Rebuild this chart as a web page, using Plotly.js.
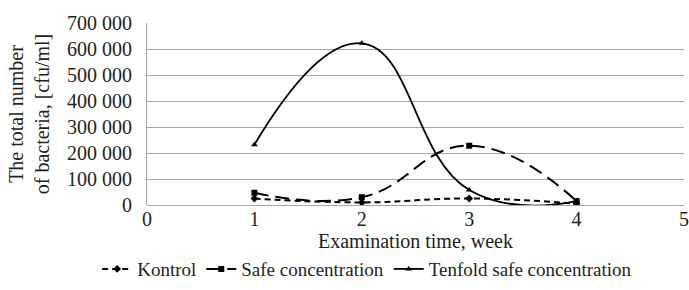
<!DOCTYPE html>
<html><head><meta charset="utf-8">
<script src="https://cdn.plot.ly/plotly-3.0.1.min.js"></script>
<style>body{margin:0;padding:0;background:#fff}#chart{width:689px;height:290px}</style>
</head><body><div id="chart"></div>
<script>
const weeks = [1, 2, 3, 4];
const kontrol = [25000, 10000, 25000, 5000];
const safeConc = [47000, 30000, 228000, 15000];
const tenfold = [232000, 622000, 58000, 15000];
const yTicks = [0, 100000, 200000, 300000, 400000, 500000, 600000, 700000];
const yTickText = ['0', '100 000', '200 000', '300 000', '400 000', '500 000', '600 000', '700 000'];
const xTicks = [0, 1, 2, 3, 4, 5];

const fam = 'Liberation Serif, Times New Roman, serif';
const col = '#231f20';
const f = {family: fam, size: 20, color: col};
const fl = {family: fam, size: 19, color: col};
const traces = [
  {x: weeks, y: kontrol, name: 'Kontrol', mode: 'lines+markers',
   line: {color: '#000', width: 2, dash: '6px,4px', shape: 'spline', smoothing: 1.3},
   marker: {symbol: 'diamond', size: 6, color: '#000'}},
  {x: weeks, y: safeConc, name: 'Safe concentration', mode: 'lines+markers',
   line: {color: '#000', width: 2, dash: '14px,7px', shape: 'spline', smoothing: 1.3},
   marker: {symbol: 'square', size: 6, color: '#000'}},
  {x: weeks, y: tenfold, name: 'Tenfold safe concentration', mode: 'lines+markers',
   line: {color: '#000', width: 1.8, shape: 'spline', smoothing: 1.3},
   marker: {symbol: 'triangle-up', size: 6, color: '#000'}}
];
const layout = {
  width: 689, height: 290,
  margin: {l: 147, r: 5, t: 23, b: 85, autoexpand: false},
  paper_bgcolor: '#fff', plot_bgcolor: '#fff',
  font: f,
  showlegend: true,
  legend: {orientation: 'h', x: 0.41, xanchor: 'center', y: -0.352, yanchor: 'middle',
           font: fl, tracegroupgap: 0},
  xaxis: {range: [0, 5], tickvals: xTicks, ticktext: xTicks.map(String), showgrid: false,
          zeroline: false, showline: false, ticks: '', tickfont: f, automargin: false,
          title: {text: 'Examination time, week', font: f, standoff: 0}},
  yaxis: {range: [0, 700000], tickvals: yTicks, ticktext: yTickText, showgrid: true,
          gridcolor: '#a6a6a6', gridwidth: 1, zeroline: true, zerolinecolor: '#a6a6a6', zerolinewidth: 1,
          showline: true, linecolor: '#a6a6a6', linewidth: 1, ticks: '', tickfont: f,
          ticklabelstandoff: 10, automargin: false,
          title: {text: 'The total number<br>of bacteria, [cfu/ml]', font: f, standoff: 12}}
};
Plotly.newPlot('chart', traces, layout, {displayModeBar: false, staticPlot: true});
</script></body></html>
